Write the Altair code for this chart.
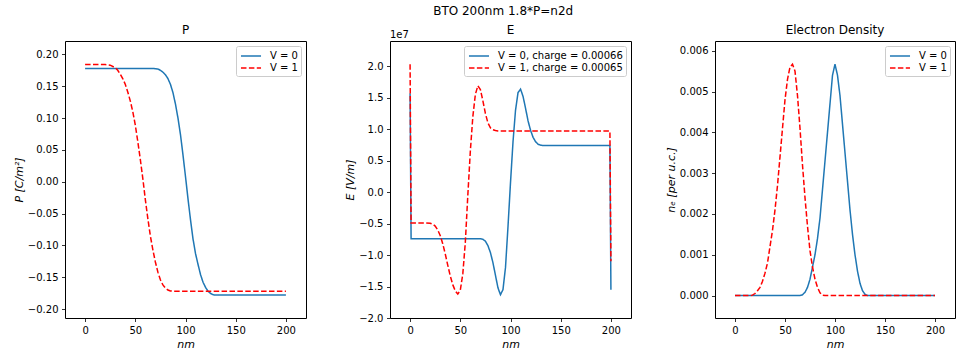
import altair as alt
import pandas as pd

BLUE = "#1f77b4"
RED = "#ff0000"

# ---------------- Panel 1: P ----------------
x_P = [0, 10, 20, 25, 30, 32.5, 35, 37.5, 40, 42.5, 45, 47.5, 50, 52.5, 55, 57.5,
       60, 62.5, 65, 67.5, 70, 72.5, 75, 77.5, 80, 82.5, 85, 87.5, 90, 92.5, 95, 97.5,
       100, 102.5, 105, 107.5, 110, 112.5, 115, 117.5, 120, 122.5, 125, 127.5, 130,
       135, 140, 150, 160, 170, 180, 190, 200]
P_V0 = [0.178, 0.178, 0.178, 0.178, 0.178, 0.178, 0.178, 0.178, 0.178, 0.178, 0.178,
        0.178, 0.178, 0.178, 0.178, 0.178, 0.178, 0.178, 0.178, 0.178,
        0.1775, 0.177, 0.175, 0.172, 0.168, 0.162, 0.153, 0.140, 0.122, 0.100, 0.074,
        0.042, 0.008, -0.027, -0.060, -0.090, -0.113, -0.130, -0.146, -0.158, -0.166,
        -0.172, -0.1755, -0.1775, -0.178, -0.178, -0.178, -0.178, -0.178, -0.178,
        -0.178, -0.178, -0.178]
P_V1 = [0.184, 0.184, 0.184, 0.183, 0.179, 0.175, 0.169, 0.162, 0.153, 0.141, 0.127,
        0.110, 0.089, 0.063, 0.035, 0.005, -0.028, -0.058, -0.085, -0.107, -0.126,
        -0.142, -0.154, -0.162, -0.167, -0.170, -0.1715, -0.172, -0.172, -0.172,
        -0.172, -0.172, -0.172, -0.172, -0.172, -0.172, -0.172, -0.172, -0.172,
        -0.172, -0.172, -0.172, -0.172, -0.172, -0.172, -0.172, -0.172, -0.172,
        -0.172, -0.172, -0.172, -0.172, -0.172]
P_labels = ["V = 0", "V = 1"]
P_ticks = [-0.20, -0.15, -0.10, -0.05, 0.00, 0.05, 0.10, 0.15, 0.20]

# ---------------- Panel 2: E (units of 1e7 V/m) ----------------
x_E = [0, 1, 5, 10, 15, 20, 22.5, 25, 27.5, 30, 32.5, 35, 37.5, 40, 42.5, 45, 47.5,
       50, 52.5, 55, 57.5, 60, 62.5, 65, 67.5, 70, 72.5, 75, 77.5, 80, 82.5, 85, 87.5,
       90, 92.5, 95, 97.5, 100, 102.5, 105, 107.5, 110, 112.5, 115, 117.5, 120, 122.5,
       125, 127.5, 130, 132.5, 135, 140, 150, 160, 170, 180, 190, 199, 200]
E_V0 = [1.57, -0.74, -0.74, -0.74, -0.74, -0.74, -0.74, -0.74, -0.74, -0.74, -0.74,
        -0.74, -0.74, -0.74, -0.74, -0.74, -0.74, -0.74, -0.74, -0.74, -0.74, -0.74,
        -0.74, -0.74, -0.74, -0.742, -0.75, -0.78, -0.85, -0.96, -1.12, -1.32, -1.52,
        -1.63, -1.55, -1.20, -0.55, 0.15, 0.80, 1.30, 1.58, 1.635, 1.52, 1.33, 1.13,
        0.98, 0.87, 0.80, 0.76, 0.745, 0.74, 0.74, 0.74, 0.74, 0.74, 0.74, 0.74, 0.74,
        0.74, -1.55]
E_V1 = [2.03, -0.49, -0.49, -0.49, -0.49, -0.495, -0.51, -0.54, -0.60, -0.69, -0.82,
        -0.98, -1.16, -1.33, -1.47, -1.57, -1.62, -1.56, -1.30, -0.80, -0.05, 0.65,
        1.20, 1.55, 1.69, 1.63, 1.45, 1.25, 1.10, 1.02, 0.99, 0.977, 0.972, 0.97,
        0.97, 0.97, 0.97, 0.97, 0.97, 0.97, 0.97, 0.97, 0.97, 0.97, 0.97, 0.97, 0.97,
        0.97, 0.97, 0.97, 0.97, 0.97, 0.97, 0.97, 0.97, 0.97, 0.97, 0.97, 0.97, -1.10]
E_labels = ["V = 0, charge = 0.00066", "V = 1, charge = 0.00065"]
E_ticks = [-2.0, -1.5, -1.0, -0.5, 0.0, 0.5, 1.0, 1.5, 2.0]

# ---------------- Panel 3: Electron density ----------------
x_N = [0, 10, 15, 17.5, 20, 22.5, 25, 27.5, 30, 32.5, 35, 37.5, 40, 42.5, 45, 47.5,
       50, 52.5, 55, 57.5, 60, 62.5, 65, 67.5, 70, 72.5, 75, 77.5, 80, 82.5, 85, 87.5,
       90, 92.5, 95, 97.5, 100, 102.5, 105, 107.5, 110, 112.5, 115, 117.5, 120, 122.5,
       125, 127.5, 130, 132.5, 135, 140, 150, 160, 170, 180, 190, 200]
N_V0 = [0, 0, 0, 0, 0, 0, 0, 0, 0, 0, 0, 0, 0, 0, 0, 0, 0, 0, 0, 0, 0, 0,
        0, 0.00002, 0.00008, 0.0002, 0.0004, 0.0007, 0.0010, 0.0014, 0.0019, 0.0026,
        0.0033, 0.0040, 0.0047, 0.0054, 0.00567, 0.0054, 0.0049, 0.0042, 0.0035,
        0.0028, 0.0021, 0.0015, 0.0010, 0.0006, 0.0003, 0.00012, 0.00003, 0, 0,
        0, 0, 0, 0, 0, 0, 0]
N_V1 = [0, 0, 0, 0.00001, 0.00005, 0.00012, 0.0002, 0.00035, 0.00055, 0.0008, 0.0012,
        0.0016, 0.0021, 0.0027, 0.0034, 0.0041, 0.0048, 0.0053, 0.0056, 0.00567,
        0.0055, 0.0049, 0.0041, 0.0032, 0.0024, 0.0017, 0.0011, 0.0007, 0.0004,
        0.0002, 0.00007, 0.00001, 0, 0, 0, 0, 0, 0, 0, 0, 0, 0, 0, 0, 0, 0, 0, 0,
        0, 0, 0, 0, 0, 0, 0, 0, 0, 0]
N_labels = ["V = 0", "V = 1"]
N_ticks = [0.000, 0.001, 0.002, 0.003, 0.004, 0.005, 0.006]

x_ticks = [0, 50, 100, 150, 200]

FONT = "DejaVu Sans"


def frame(xs, a, b, labels):
    return pd.DataFrame({
        "x": list(xs) + list(xs),
        "y": list(a) + list(b),
        "series": [labels[0]] * len(xs) + [labels[1]] * len(xs),
    })


def lines(df, labels, ydomain, yticks, yfmt, ytitle):
    leg = alt.Legend(
        title=None, orient="top-right", offset=5, padding=3,
        strokeColor="#cccccc", fillColor="rgba(255,255,255,0.8)", cornerRadius=2,
        symbolType="M-1.67,0H1.67", symbolSize=144, symbolStrokeWidth=1.5,
        symbolOffset=5, labelOffset=12, labelFontSize=10, labelFont=FONT,
        labelColor="black", labelLimit=400, rowPadding=0,
    )
    return alt.Chart(df).mark_line(strokeWidth=1.5, clip=True).encode(
        x=alt.X("x:Q", scale=alt.Scale(domain=[-20, 220], nice=False, zero=False),
                axis=alt.Axis(values=x_ticks, title="nm", format="d")),
        y=alt.Y("y:Q", scale=alt.Scale(domain=ydomain, nice=False, zero=False),
                axis=alt.Axis(values=yticks, format=yfmt, title=ytitle)),
        color=alt.Color("series:N", scale=alt.Scale(domain=labels, range=[BLUE, RED]),
                        legend=leg),
        strokeDash=alt.StrokeDash("series:N",
                                  scale=alt.Scale(domain=labels, range=[[1, 0], [5.5, 2.4]]),
                                  legend=leg),
    )


p1 = lines(frame(x_P, P_V0, P_V1, P_labels), P_labels, [-0.214, 0.221], P_ticks,
           ".2f", "P [C/m²]").properties(width=241, height=277, title="P")

e_lines = lines(frame(x_E, E_V0, E_V1, E_labels), E_labels, [-2.0, 2.4], E_ticks,
                ".1f", "E [V/m]")
offset_txt = alt.Chart(pd.DataFrame({"t": ["1e7"]})).mark_text(
    align="left", baseline="alphabetic", fontSize=10, font=FONT, color="black"
).encode(x=alt.value(0), y=alt.value(-3), text="t:N")
p2 = alt.layer(e_lines, offset_txt).properties(
    width=241, height=277, title=alt.TitleParams("E", dy=11))

p3 = lines(frame(x_N, N_V0, N_V1, N_labels), N_labels, [-0.00055, 0.00624], N_ticks,
           ".3f", "nₑ [per u.c.]").properties(width=240, height=277,
                                               title="Electron Density")

chart = alt.hconcat(p1, p2, p3, spacing=84, bounds="flush").resolve_scale(
    x="independent", y="independent", color="independent", strokeDash="independent"
).properties(
    title=alt.TitleParams("BTO 200nm 1.8*P=n2d", fontSize=12, font=FONT,
                          fontWeight="normal", color="black", anchor="middle",
                          offset=6, dx=19),
    padding={"left": 12, "top": 4, "right": 0, "bottom": 11},
    background="white",
).configure_view(
    stroke="black", strokeWidth=1
).configure_axis(
    domain=False, grid=False, tickColor="black", tickSize=3.5, tickWidth=0.8,
    labelFont=FONT, labelFontSize=10, labelColor="black", labelPadding=3.5,
    titleFont=FONT, titleFontSize=11, titleFontWeight="normal", titleFontStyle="italic",
    titleColor="black", titlePadding=3,
).configure_title(
    font=FONT, fontSize=12, fontWeight="normal", color="black", offset=4
)

chart.save("out.html", embed_options={"renderer": "svg", "actions": False})
